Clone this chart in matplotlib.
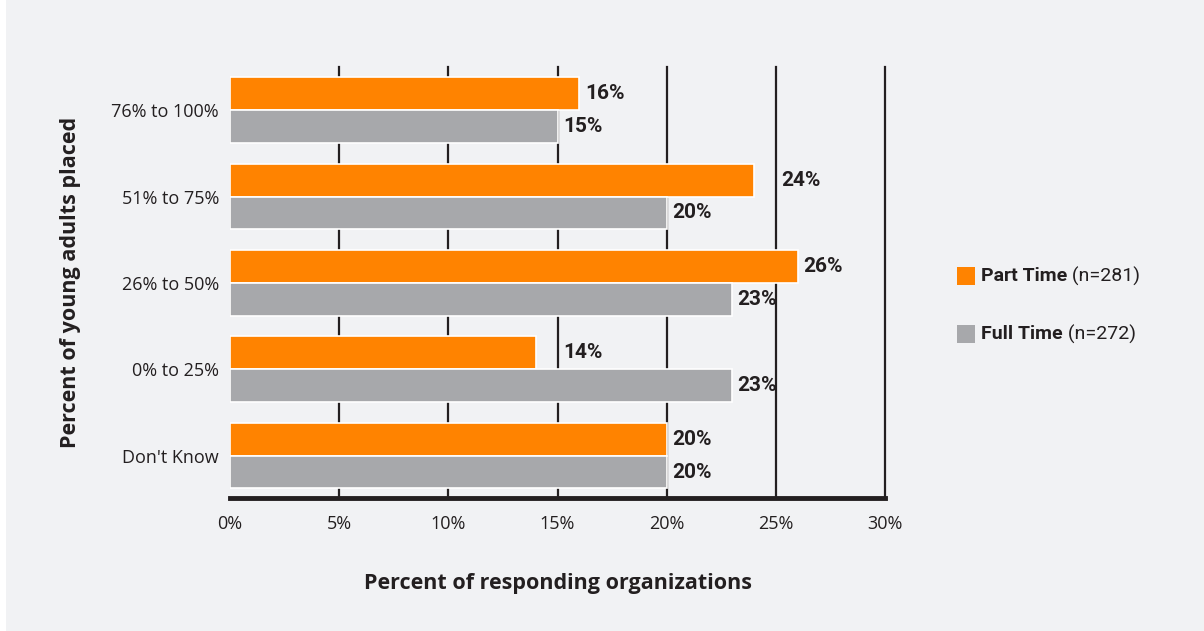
import matplotlib.pyplot as plt
from matplotlib.patches import Rectangle
import numpy as np

# data
categories = ["Don't Know", "0% to 25%", "26% to 50%", "51% to 75%", "76% to 100%"]
part_time = [20, 14, 26, 24, 16]
full_time = [20, 23, 23, 20, 15]
series_names = ["Part Time", "Full Time"]
series_n = ["(n=281)", "(n=272)"]
x_ticks = [0, 5, 10, 15, 20, 25, 30]

ORANGE = "#ff8300"
GRAY = "#a7a8ab"
DARK = "#231f20"
BG = "#f1f2f4"

plt.rcParams['font.family'] = ['Open Sans', 'DejaVu Sans']
label_font = ['Liberation Sans Narrow', 'Roboto', 'DejaVu Sans']


def label_x(v):
    # put the label past a gridline that sits just right of the bar end
    for g in x_ticks:
        if v < g < v + 1.2:
            return g
    return v


fig = plt.figure(figsize=(12.04, 6.31), dpi=100)
fig.patch.set_facecolor(BG)
fig.patches.append(Rectangle((0, 0), 6 / 1204, 1, transform=fig.transFigure,
                             facecolor="white", edgecolor="none", zorder=0))

ax = fig.add_axes([230 / 1204, 1 - 498 / 631, 655 / 1204, 431 / 631])
ax.set_facecolor(BG)

y = np.arange(len(categories))
h = 0.38
ax.barh(y + h / 2, part_time, height=h, color=ORANGE, edgecolor="white",
        linewidth=1.2, zorder=3)
ax.barh(y - h / 2, full_time, height=h, color=GRAY, edgecolor="white",
        linewidth=1.2, zorder=3)

for vals, off in [(part_time, h / 2), (full_time, -h / 2)]:
    for yi, v in zip(y, vals):
        ax.annotate(f"{v}%", xy=(label_x(v), yi + off), xytext=(4, 0),
                    textcoords="offset points", va="center", ha="left",
                    fontsize=15, fontweight="bold", color=DARK,
                    family=label_font, fontstretch="condensed", zorder=4)

ax.set_xlim(0, 30)
ax.set_ylim(-0.49, 4.5)
ax.set_xticks(x_ticks)
ax.set_xticklabels([f"{t}%" for t in x_ticks])
ax.set_yticks(y)
ax.set_yticklabels(categories)
for t in x_ticks[1:]:
    ax.axvline(t, color=DARK, linewidth=1.6, zorder=2, clip_on=False)

for s in ["top", "right", "left"]:
    ax.spines[s].set_visible(False)
ax.spines["bottom"].set_color(DARK)
ax.spines["bottom"].set_linewidth(3.5)
ax.spines["bottom"].set_zorder(5)
ax.tick_params(axis="both", length=0, labelsize=13, colors=DARK)
ax.tick_params(axis="x", pad=12)
ax.tick_params(axis="y", pad=8)

ax.set_xlabel("Percent of responding organizations", fontsize=15.5,
              fontweight="bold", color=DARK, labelpad=29)
ax.set_ylabel("Percent of young adults placed", fontsize=15.5,
              fontweight="bold", color=DARK, labelpad=22)

# legend drawn by hand: bold name followed by the sample size
for i, (name, n, col) in enumerate(zip(series_names, series_n, [ORANGE, GRAY])):
    yy = 1 - (276 + 58 * i) / 631
    fig.patches.append(Rectangle((957 / 1204, yy - 9 / 631), 18 / 1204, 18 / 631,
                                 transform=fig.transFigure, facecolor=col,
                                 edgecolor="none"))
    t = fig.text(981 / 1204, yy, name, fontsize=14, fontweight="bold",
                 color=DARK, va="center", family=label_font,
                 fontstretch="condensed")
    ax.annotate(" " + n, xy=(1, 0.5), xycoords=t, va="center", ha="left",
                fontsize=14, color=DARK, family=label_font,
                fontstretch="condensed", annotation_clip=False)

fig.savefig("out.png", dpi=100, facecolor=BG)
